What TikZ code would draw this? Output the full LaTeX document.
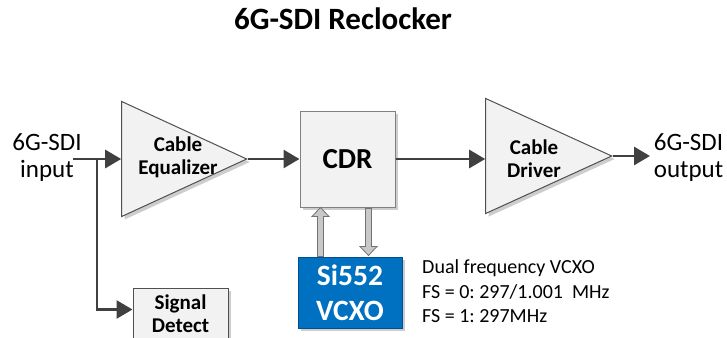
\documentclass[tikz,border=0pt]{standalone}
\usepackage{fontspec}
\setmainfont{Carlito}
\usetikzlibrary{positioning,arrows.meta,calc,shapes.geometric,shadows}
\definecolor{clkdark}{RGB}{64,64,64}
\definecolor{clkedge}{RGB}{80,80,80}
\definecolor{clkfill}{RGB}{242,242,242}
\definecolor{clkshade}{RGB}{205,205,205}
\definecolor{clkblue}{RGB}{0,112,192}
\definecolor{clkblueedge}{RGB}{0,80,145}
\definecolor{clkpipe}{RGB}{200,200,200}
\definecolor{clkpipeedge}{RGB}{115,115,115}
\definecolor{clkbox}{RGB}{128,128,128}

\begin{document}
\begin{tikzpicture}[x=1pt,y=-1pt,
    boxshadow/.style={drop shadow={shadow xshift=3pt,shadow yshift=-3pt,fill=clkshade,opacity=1}},
    amp/.style={isosceles triangle,isosceles triangle stretches,draw=clkedge,fill=clkfill,
        line width=1pt,inner sep=0pt,minimum width=115,minimum height=125,anchor=apex,boxshadow},
    blk/.style={rectangle,draw=clkbox,fill=clkfill,line width=1pt,inner sep=0pt,align=center,boxshadow},
    vcxobox/.style={rectangle,draw=clkblueedge,fill=clkblue,text=white,line width=1pt,inner sep=0pt,
        align=center,minimum width=104,minimum height=71,font=\fontsize{29.5}{35}\selectfont\bfseries,boxshadow},
    wire/.style={line width=2.8pt,clkdark,-{Triangle[length=16pt,width=18pt]}},
    pipe/.style={draw=clkpipeedge,fill=clkpipe,line width=0.8pt},
    io/.style={align=center,inner sep=0pt,font=\fontsize{25}{27}\selectfont},
    boldtxt/.style={align=center,inner sep=0pt,font=\fontsize{21}{23}\selectfont\bfseries},
    note/.style={align=left,inner sep=0pt,anchor=north west,font=\fontsize{20}{24.5}\selectfont\frenchspacing}]
    \useasboundingbox (0,0) rectangle (727,337);
    % title
    \node[anchor=base,inner sep=0pt,font=\fontsize{31}{37}\selectfont\bfseries] (title) at (343,30) {6G-SDI Reclocker};
    % in / out labels
    \node[io] (inlbl) at (47,158) {6G-SDI\\input};
    \node[io] (outlbl) at (688.5,158) {6G-SDI\\output};
    % blocks
    \node[amp] (eq) at (248,159) {};
    \node[boldtxt] (eqtxt) at (178,157) {Cable\\Equalizer};
    \node[blk,minimum width=95,minimum height=96,font=\fontsize{29}{34}\selectfont\bfseries] (cdr) at (347.5,159) {CDR};
    \node[amp,minimum height=126] (drv) at (613,156) {};
    \node[boldtxt] (drvtxt) at (534,159) {Cable\\Driver};
    \node[blk,draw=clkedge,minimum width=95,minimum height=52,font=\fontsize{21}{23}\selectfont\bfseries] (sigdet) at (180.5,314) {Signal\\Detect};
    \node[vcxobox] (vcxo) at (350,292.5) {Si552\\VCXO};
    \node[note] (fsnote) at (422,259.5) {Dual frequency VCXO\\FS = 0: 297/1.001\ \ MHz\\FS = 1: 297MHz};
    % signal path
    \coordinate (instart) at (73,159);
    \coordinate (split) at (97,159);
    \coordinate (outend) at (650,156);
    \draw[wire] (instart) -- (eq.lower side);
    \draw[wire] (split) |- ($(sigdet.north west)+(0,22)$);
    \draw[wire] (eq.apex) -- (cdr.west);
    \draw[wire] (cdr.east) -- (cdr.east -| drv.lower side);
    \draw[wire] (drv.apex) -- (outend);
    % VCXO control arrows
    \coordinate (upfoot) at ($(vcxo.north west)+(23,0)$);
    \coordinate (dntop) at ($(cdr.south east)+(-27,0)$);
    \draw[pipe] (upfoot) ++(-3,0) -- ++(0,-40) -- ++(-5.5,0) -- ++(8.5,-9) -- ++(8.5,9) -- ++(-5.5,0) -- ++(0,40) -- cycle;
    \draw[pipe] (dntop) ++(-3,1) -- ++(0,38) -- ++(-5.5,0) -- ++(8.5,9) -- ++(8.5,-9) -- ++(-5.5,0) -- ++(0,-38) -- cycle;
\end{tikzpicture}
\end{document}
